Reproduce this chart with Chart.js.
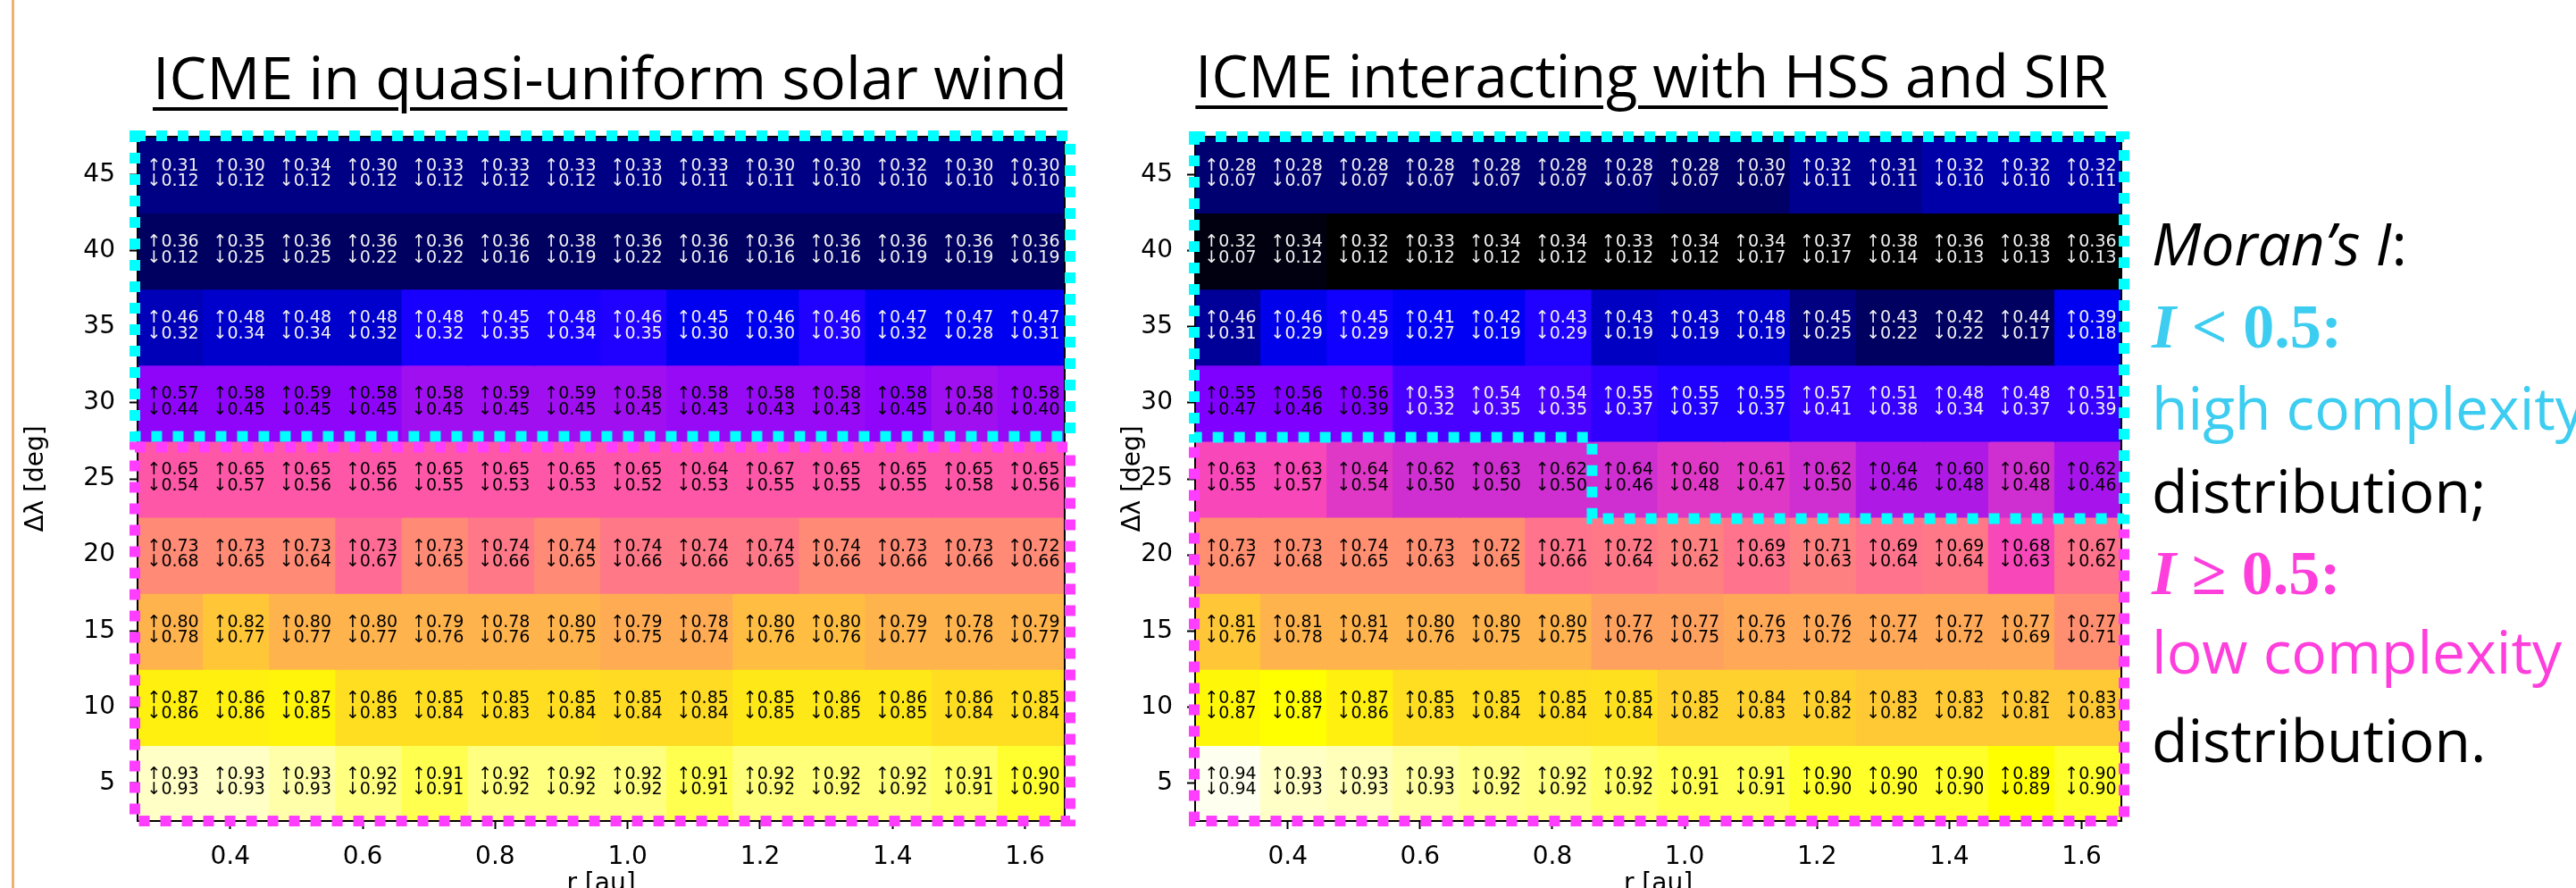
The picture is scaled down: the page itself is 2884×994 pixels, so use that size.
<!DOCTYPE html>
<html>
<head>
<meta charset="utf-8">
<script src="https://cdn.jsdelivr.net/npm/chart.js@4.4.1/dist/chart.umd.min.js"></script>
<style>
  html, body { margin: 0; padding: 0; background: #fff; overflow: hidden; }
  body { width: 2884px; height: 994px; position: relative; }
  canvas { position: absolute; top: 0; }
  #cvL { left: 24px; }
  #cvR { left: 1252px; }
  .title {
    position: absolute; top: 52px; transform: translateX(-50%);
    font-family: "Open Sans"; font-size: 65px; line-height: 1; white-space: nowrap;
    text-decoration: underline; text-decoration-thickness: 4px; text-underline-offset: 9px;
  }
  .side { position: absolute; left: 2409px; font-family: "Open Sans"; font-size: 66px; line-height: 1; white-space: nowrap; }
  .math { font-family: "Liberation Serif"; font-weight: bold; font-size: 70px; }
  .cy { color: #3dcdf0; }
  .mg { color: #ff3fdc; }
  #edge { position: absolute; left: 13px; top: 0; width: 3px; height: 994px; background: #f2b071; }
</style>
</head>
<body>
<div id="edge"></div>
<div class="title" style="left:683px; font-size:66.5px">ICME in quasi-uniform solar wind</div>
<div class="title" style="left:1849px">ICME interacting with HSS and SIR</div>

<div class="side" style="top:238px"><i>Moran’s I</i>:</div>
<div class="side math cy" style="top:331px"><i>I</i> &lt; 0.5:</div>
<div class="side cy" style="top:422px">high complexity</div>
<div class="side" style="top:515px">distribution;</div>
<div class="side math mg" style="top:607px"><i>I</i> ≥ 0.5:</div>
<div class="side mg" style="top:695px">low complexity</div>
<div class="side" style="top:794px">distribution.</div>

<canvas id="cvL" width="1188" height="1007"></canvas>
<canvas id="cvR" width="1143" height="1007"></canvas>

<script>
// r [au] of each column, Δλ [deg] of each row (top to bottom)
const rVals = [0.31, 0.41, 0.51, 0.61, 0.71, 0.81, 0.91, 1.01, 1.11, 1.21, 1.31, 1.41, 1.51, 1.61];
const lambdaRows = [45, 40, 35, 30, 25, 20, 15, 10, 5];
const xTicks = [0.4, 0.6, 0.8, 1.0, 1.2, 1.4, 1.6];
const yTicks = [5, 10, 15, 20, 25, 30, 35, 40, 45];

// quasi-uniform solar wind
const leftUp = [
  [0.31, 0.30, 0.34, 0.30, 0.33, 0.33, 0.33, 0.33, 0.33, 0.30, 0.30, 0.32, 0.30, 0.30],
  [0.36, 0.35, 0.36, 0.36, 0.36, 0.36, 0.38, 0.36, 0.36, 0.36, 0.36, 0.36, 0.36, 0.36],
  [0.46, 0.48, 0.48, 0.48, 0.48, 0.45, 0.48, 0.46, 0.45, 0.46, 0.46, 0.47, 0.47, 0.47],
  [0.57, 0.58, 0.59, 0.58, 0.58, 0.59, 0.59, 0.58, 0.58, 0.58, 0.58, 0.58, 0.58, 0.58],
  [0.65, 0.65, 0.65, 0.65, 0.65, 0.65, 0.65, 0.65, 0.64, 0.67, 0.65, 0.65, 0.65, 0.65],
  [0.73, 0.73, 0.73, 0.73, 0.73, 0.74, 0.74, 0.74, 0.74, 0.74, 0.74, 0.73, 0.73, 0.72],
  [0.80, 0.82, 0.80, 0.80, 0.79, 0.78, 0.80, 0.79, 0.78, 0.80, 0.80, 0.79, 0.78, 0.79],
  [0.87, 0.86, 0.87, 0.86, 0.85, 0.85, 0.85, 0.85, 0.85, 0.85, 0.86, 0.86, 0.86, 0.85],
  [0.93, 0.93, 0.93, 0.92, 0.91, 0.92, 0.92, 0.92, 0.91, 0.92, 0.92, 0.92, 0.91, 0.90]
];
const leftDown = [
  [0.12, 0.12, 0.12, 0.12, 0.12, 0.12, 0.12, 0.10, 0.11, 0.11, 0.10, 0.10, 0.10, 0.10],
  [0.12, 0.25, 0.25, 0.22, 0.22, 0.16, 0.19, 0.22, 0.16, 0.16, 0.16, 0.19, 0.19, 0.19],
  [0.32, 0.34, 0.34, 0.32, 0.32, 0.35, 0.34, 0.35, 0.30, 0.30, 0.30, 0.32, 0.28, 0.31],
  [0.44, 0.45, 0.45, 0.45, 0.45, 0.45, 0.45, 0.45, 0.43, 0.43, 0.43, 0.45, 0.40, 0.40],
  [0.54, 0.57, 0.56, 0.56, 0.55, 0.53, 0.53, 0.52, 0.53, 0.55, 0.55, 0.55, 0.58, 0.56],
  [0.68, 0.65, 0.64, 0.67, 0.65, 0.66, 0.65, 0.66, 0.66, 0.65, 0.66, 0.66, 0.66, 0.66],
  [0.78, 0.77, 0.77, 0.77, 0.76, 0.76, 0.75, 0.75, 0.74, 0.76, 0.76, 0.77, 0.76, 0.77],
  [0.86, 0.86, 0.85, 0.83, 0.84, 0.83, 0.84, 0.84, 0.84, 0.85, 0.85, 0.85, 0.84, 0.84],
  [0.93, 0.93, 0.93, 0.92, 0.91, 0.92, 0.92, 0.92, 0.91, 0.92, 0.92, 0.92, 0.91, 0.90]
];
// cell colour level (0..1 on the gnuplot2 scale)
const leftShade = [
  [0.13, 0.13, 0.13, 0.13, 0.13, 0.13, 0.13, 0.13, 0.13, 0.13, 0.13, 0.13, 0.13, 0.13],
  [0.095, 0.095, 0.095, 0.095, 0.095, 0.095, 0.095, 0.095, 0.095, 0.095, 0.095, 0.095, 0.095, 0.095],
  [0.18, 0.20, 0.20, 0.20, 0.28, 0.28, 0.28, 0.29, 0.235, 0.235, 0.29, 0.235, 0.235, 0.235],
  [0.43, 0.43, 0.43, 0.43, 0.45, 0.45, 0.45, 0.45, 0.44, 0.44, 0.44, 0.43, 0.45, 0.44],
  [0.59, 0.59, 0.59, 0.59, 0.59, 0.59, 0.59, 0.59, 0.59, 0.59, 0.59, 0.59, 0.59, 0.59],
  [0.69, 0.69, 0.69, 0.63, 0.69, 0.655, 0.69, 0.655, 0.655, 0.655, 0.69, 0.69, 0.69, 0.69],
  [0.77, 0.81, 0.77, 0.77, 0.77, 0.77, 0.77, 0.755, 0.755, 0.79, 0.79, 0.77, 0.77, 0.77],
  [0.89, 0.89, 0.90, 0.855, 0.855, 0.855, 0.855, 0.85, 0.85, 0.875, 0.875, 0.875, 0.855, 0.855],
  [0.982, 0.982, 0.973, 0.96, 0.945, 0.96, 0.96, 0.96, 0.945, 0.958, 0.958, 0.958, 0.952, 0.935]
];

// interacting with HSS and SIR
const rightUp = [
  [0.28, 0.28, 0.28, 0.28, 0.28, 0.28, 0.28, 0.28, 0.30, 0.32, 0.31, 0.32, 0.32, 0.32],
  [0.32, 0.34, 0.32, 0.33, 0.34, 0.34, 0.33, 0.34, 0.34, 0.37, 0.38, 0.36, 0.38, 0.36],
  [0.46, 0.46, 0.45, 0.41, 0.42, 0.43, 0.43, 0.43, 0.48, 0.45, 0.43, 0.42, 0.44, 0.39],
  [0.55, 0.56, 0.56, 0.53, 0.54, 0.54, 0.55, 0.55, 0.55, 0.57, 0.51, 0.48, 0.48, 0.51],
  [0.63, 0.63, 0.64, 0.62, 0.63, 0.62, 0.64, 0.60, 0.61, 0.62, 0.64, 0.60, 0.60, 0.62],
  [0.73, 0.73, 0.74, 0.73, 0.72, 0.71, 0.72, 0.71, 0.69, 0.71, 0.69, 0.69, 0.68, 0.67],
  [0.81, 0.81, 0.81, 0.80, 0.80, 0.80, 0.77, 0.77, 0.76, 0.76, 0.77, 0.77, 0.77, 0.77],
  [0.87, 0.88, 0.87, 0.85, 0.85, 0.85, 0.85, 0.85, 0.84, 0.84, 0.83, 0.83, 0.82, 0.83],
  [0.94, 0.93, 0.93, 0.93, 0.92, 0.92, 0.92, 0.91, 0.91, 0.90, 0.90, 0.90, 0.89, 0.90]
];
const rightDown = [
  [0.07, 0.07, 0.07, 0.07, 0.07, 0.07, 0.07, 0.07, 0.07, 0.11, 0.11, 0.10, 0.10, 0.11],
  [0.07, 0.12, 0.12, 0.12, 0.12, 0.12, 0.12, 0.12, 0.17, 0.17, 0.14, 0.13, 0.13, 0.13],
  [0.31, 0.29, 0.29, 0.27, 0.19, 0.29, 0.19, 0.19, 0.19, 0.25, 0.22, 0.22, 0.17, 0.18],
  [0.47, 0.46, 0.39, 0.32, 0.35, 0.35, 0.37, 0.37, 0.37, 0.41, 0.38, 0.34, 0.37, 0.39],
  [0.55, 0.57, 0.54, 0.50, 0.50, 0.50, 0.46, 0.48, 0.47, 0.50, 0.46, 0.48, 0.48, 0.46],
  [0.67, 0.68, 0.65, 0.63, 0.65, 0.66, 0.64, 0.62, 0.63, 0.63, 0.64, 0.64, 0.63, 0.62],
  [0.76, 0.78, 0.74, 0.76, 0.75, 0.75, 0.76, 0.75, 0.73, 0.72, 0.74, 0.72, 0.69, 0.71],
  [0.87, 0.87, 0.86, 0.83, 0.84, 0.84, 0.84, 0.82, 0.83, 0.82, 0.82, 0.82, 0.81, 0.83],
  [0.94, 0.93, 0.93, 0.93, 0.92, 0.92, 0.92, 0.91, 0.91, 0.90, 0.90, 0.90, 0.89, 0.90]
];
const rightShade = [
  [0.11, 0.11, 0.11, 0.11, 0.11, 0.11, 0.11, 0.10, 0.10, 0.14, 0.14, 0.165, 0.165, 0.165],
  [0.016, 0.016, 0, 0, 0, 0, 0, 0, 0, 0, 0, 0, 0, 0],
  [0.15, 0.23, 0.27, 0.24, 0.24, 0.29, 0.19, 0.20, 0.20, 0.125, 0.094, 0.094, 0.094, 0.235],
  [0.41, 0.41, 0.41, 0.34, 0.34, 0.34, 0.31, 0.29, 0.29, 0.32, 0.32, 0.32, 0.32, 0.32],
  [0.56, 0.56, 0.53, 0.51, 0.51, 0.51, 0.51, 0.53, 0.53, 0.51, 0.47, 0.47, 0.51, 0.46],
  [0.70, 0.70, 0.70, 0.70, 0.70, 0.645, 0.655, 0.67, 0.645, 0.67, 0.645, 0.655, 0.56, 0.645],
  [0.81, 0.77, 0.77, 0.77, 0.77, 0.77, 0.735, 0.735, 0.75, 0.75, 0.75, 0.75, 0.75, 0.70],
  [0.905, 0.92, 0.89, 0.855, 0.855, 0.855, 0.86, 0.83, 0.83, 0.83, 0.815, 0.815, 0.815, 0.815],
  [0.995, 0.982, 0.978, 0.97, 0.963, 0.96, 0.952, 0.945, 0.945, 0.933, 0.933, 0.933, 0.92, 0.933]
];

Chart.defaults.font.family = 'DejaVu Sans';
Chart.defaults.color = '#000';

// matplotlib gnuplot2
function gnuplot2(t) {
  const c = v => Math.max(0, Math.min(1, v));
  const r = c(t / 0.32 - 0.78125);
  const g = c(2 * t - 0.84);
  let b;
  if (t < 0.25) b = 4 * t;
  else if (t < 0.42) b = 1;
  else if (t < 0.92) b = -2 * t + 1.84;
  else b = t / 0.08 - 11.5;
  b = c(b);
  return `rgb(${Math.round(r * 255)},${Math.round(g * 255)},${Math.round(b * 255)})`;
}

const cellText = {
  id: 'cellText',
  afterDatasetsDraw(chart) {
    const ctx = chart.ctx;
    ctx.save();
    ctx.font = '19px "DejaVu Sans"';
    ctx.textAlign = 'center';
    ctx.textBaseline = 'middle';
    chart.data.datasets.forEach((ds, i) => {
      chart.getDatasetMeta(i).data.forEach((bar, j) => {
        const cy = (bar.y + bar.base) / 2;
        ctx.fillStyle = ds.shade[j] < 0.38 ? '#f0f0f0' : '#000';
        ctx.fillText('↑' + ds.up[j].toFixed(2), bar.x + 2.5, cy - 9.5);
        ctx.fillText('↓' + ds.down[j].toFixed(2), bar.x + 2.5, cy + 8);
      });
    });
    ctx.restore();
  }
};

function dashed(ctx, color, pts, close) {
  ctx.save();
  ctx.strokeStyle = color;
  ctx.lineWidth = 12;
  ctx.setLineDash([12, 12]);
  ctx.beginPath();
  pts.forEach((p, i) => i ? ctx.lineTo(p[0], p[1]) : ctx.moveTo(p[0], p[1]));
  if (close) ctx.closePath();
  ctx.stroke();
  ctx.restore();
}

function outline(kind) {
  return {
    id: 'outline',
    afterDraw(chart) {
      const {ctx, chartArea: a, scales: {x, y}} = chart;
      ctx.save();
      ctx.strokeStyle = '#000';
      ctx.lineWidth = 2;
      ctx.strokeRect(a.left, a.top, a.right - a.left, a.bottom - a.top);
      ctx.restore();
      const s1 = y.getPixelForValue(27.5);
      const T = a.top, B = a.bottom;
      if (kind === 'left') {
        const L = a.left - 3, R = a.right + 6;
        dashed(ctx, '#00ffff', [[L, T - 1], [R, T - 1], [R, s1 - 5], [L, s1 - 5]], true);
        dashed(ctx, '#ff3dff', [[L, s1 + 7], [R, s1 + 7], [R, B], [L, B]], true);
      } else {
        const L = a.left - 1, R = a.right + 3;
        const s2 = y.getPixelForValue(22.5);
        const xs = x.getPixelForValue(0.86);
        dashed(ctx, '#00ffff', [[L, T], [R, T], [R, s2 + 2], [xs, s2 + 2], [xs, s1 - 4], [L, s1 - 4]], true);
        dashed(ctx, '#ff3dff', [[L, s1 + 7], [L, B], [R, B], [R, s2 + 14]], false);
      }
    }
  };
}

function makeChart(id, up, down, shade, kind, yWidth) {
  const datasets = lambdaRows.map((lam, i) => ({
    label: 'Δλ = ' + lam,
    data: rVals.map(r => ({ x: r, y: [lam - 2.5, lam + 2.5] })),
    backgroundColor: shade[i].map(gnuplot2),
    up: up[i],
    down: down[i],
    shade: shade[i]
  }));
  return new Chart(document.getElementById(id), {
    type: 'bar',
    data: { datasets },
    options: {
      responsive: false,
      animation: false,
      layout: { padding: { top: 153, right: 20, left: 0, bottom: 0 } },
      datasets: {
        bar: { grouped: false, categoryPercentage: 1, barPercentage: 1, borderWidth: 0, inflateAmount: 1 }
      },
      plugins: { legend: { display: false }, tooltip: { enabled: false } },
      scales: {
        x: {
          type: 'linear', min: 0.26, max: 1.66, offset: false,
          afterBuildTicks: s => { s.ticks = xTicks.map(v => ({ value: v })); },
          afterFit: s => { s.height = 88; },
          ticks: { font: { size: 28 }, padding: 15, maxRotation: 0, callback: v => v.toFixed(1) },
          grid: { drawOnChartArea: false, offset: false, tickLength: 9, tickWidth: 2, tickColor: '#000' },
          border: { color: '#000', width: 2 },
          title: { display: true, text: 'r [au]', font: { size: 28 }, padding: 0 }
        },
        y: {
          type: 'linear', min: 2.5, max: 47.5,
          afterBuildTicks: s => { s.ticks = yTicks.map(v => ({ value: v })); },
          afterFit: s => { s.width = yWidth; },
          ticks: { font: { size: 28 }, padding: 16 },
          grid: { drawOnChartArea: false, tickLength: 9, tickWidth: 2, tickColor: '#000' },
          border: { color: '#000', width: 2 },
          title: { display: true, text: 'Δλ [deg]', font: { size: 28 }, padding: 0 }
        }
      }
    },
    plugins: [cellText, outline(kind)]
  });
}

makeChart('cvL', leftUp, leftDown, leftShade, 'left', 130);
makeChart('cvR', rightUp, rightDown, rightShade, 'right', 86);
</script>
</body>
</html>
